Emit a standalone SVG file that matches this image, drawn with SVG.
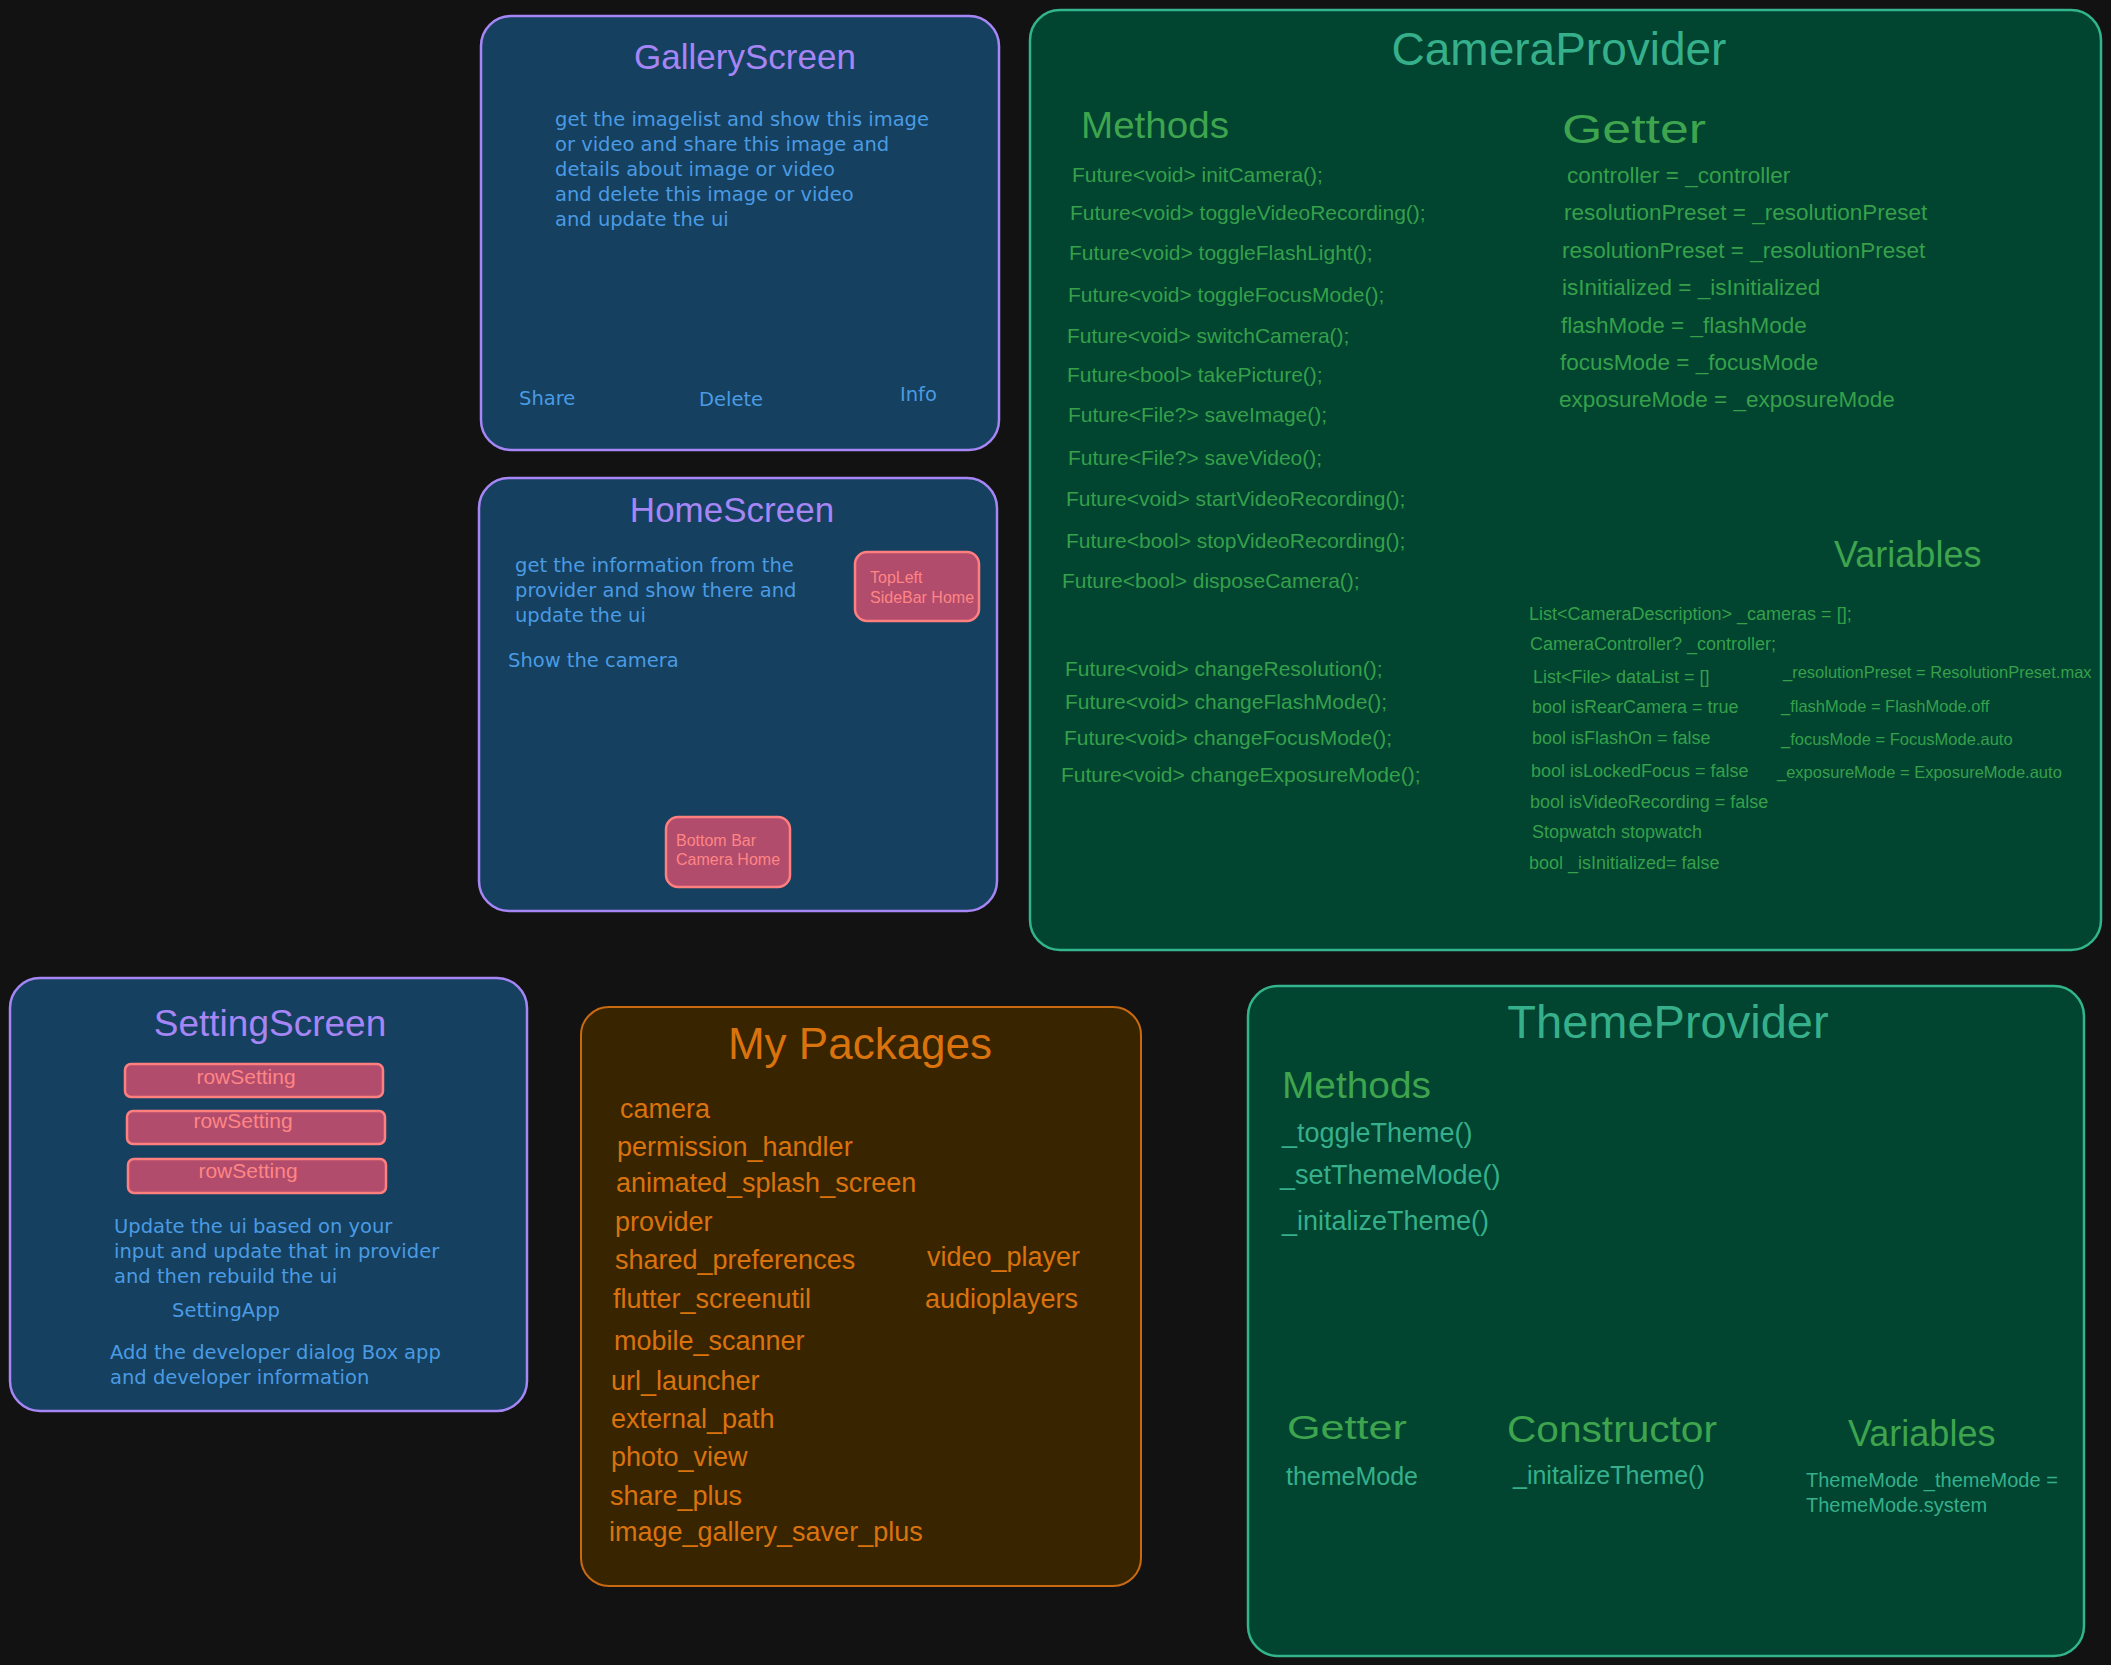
<svg xmlns="http://www.w3.org/2000/svg" width="2111" height="1665" viewBox="0 0 2111 1665">
<style>
text{font-family:"Liberation Sans",Arial,sans-serif}
.bluebox{fill:#15405f;stroke:#a685f5;stroke-width:2.5}
.greenbox{fill:#014430;stroke:#32b58b;stroke-width:2.5}
.orangebox{fill:#392400;stroke:#c96a10;stroke-width:2}
.pink{fill:#b14c6c;stroke:#ff7f7f;stroke-width:2.5}
.ptitle{fill:#a685f5;font-size:35px;text-anchor:middle}
.btxt{fill:#4a9be3;font-size:19.5px;font-family:"DejaVu Sans",Verdana,sans-serif}
.pktxt{fill:#ff8585;font-size:16px}
.gtitle{fill:#36b08b;font-size:46px;text-anchor:middle}
.ghead{fill:#3ea44e;font-size:36px}
.gm{fill:#36a04a;font-size:21px}
.gg{fill:#36a04a;font-size:22.5px}
.gv{fill:#36a04a;font-size:18px}
.gv2{fill:#36a04a;font-size:16.5px}
.otitle{fill:#d9730d;font-size:44px;text-anchor:middle}
.otxt{fill:#d9730d;font-size:27px}
.tm{fill:#36b08b;font-size:27px}
</style>
<rect width="2111" height="1665" fill="#121212"/>

<g id="gallery-screen">
<rect class="bluebox" x="481" y="16" width="518" height="434" rx="30"/>
<text class="ptitle" x="745" y="69">GalleryScreen</text>
<text class="btxt" x="555" y="126">get the imagelist and show this image</text>
<text class="btxt" x="555" y="151">or video and share this image and</text>
<text class="btxt" x="555" y="176">details about image or video</text>
<text class="btxt" x="555" y="201">and delete this image or video</text>
<text class="btxt" x="555" y="226">and update the ui</text>
<text class="btxt" x="519" y="405">Share</text>
<text class="btxt" x="699" y="406">Delete</text>
<text class="btxt" x="900" y="401">Info</text>
</g>

<g id="home-screen">
<rect class="bluebox" x="479" y="478" width="518" height="433" rx="30"/>
<text class="ptitle" x="732" y="522">HomeScreen</text>
<text class="btxt" x="515" y="572">get the information from the</text>
<text class="btxt" x="515" y="597">provider and show there and</text>
<text class="btxt" x="515" y="622">update the ui</text>
<text class="btxt" x="508" y="667">Show the camera</text>
<g id="topleft-sidebar">
<rect class="pink" x="855" y="552" width="124" height="69" rx="12"/>
<text class="pktxt" x="870" y="583">TopLeft</text>
<text class="pktxt" x="870" y="603">SideBar Home</text>
</g>
<g id="bottom-bar">
<rect class="pink" x="666" y="817" width="124" height="70" rx="12"/>
<text class="pktxt" x="676" y="846">Bottom Bar</text>
<text class="pktxt" x="676" y="865">Camera Home</text>
</g>
</g>

<g id="camera-provider">
<rect class="greenbox" x="1030" y="10" width="1071" height="940" rx="30"/>
<text class="gtitle" x="1559" y="65">CameraProvider</text>
<text class="ghead" x="1081" y="138" textLength="148" lengthAdjust="spacingAndGlyphs">Methods</text>
<text class="gm" x="1072" y="182">Future&lt;void&gt; initCamera();</text>
<text class="gm" x="1070" y="220">Future&lt;void&gt; toggleVideoRecording();</text>
<text class="gm" x="1069" y="260">Future&lt;void&gt; toggleFlashLight();</text>
<text class="gm" x="1068" y="302">Future&lt;void&gt; toggleFocusMode();</text>
<text class="gm" x="1067" y="343">Future&lt;void&gt; switchCamera();</text>
<text class="gm" x="1067" y="382">Future&lt;bool&gt; takePicture();</text>
<text class="gm" x="1068" y="422">Future&lt;File?&gt; saveImage();</text>
<text class="gm" x="1068" y="465">Future&lt;File?&gt; saveVideo();</text>
<text class="gm" x="1066" y="506">Future&lt;void&gt; startVideoRecording();</text>
<text class="gm" x="1066" y="548">Future&lt;bool&gt; stopVideoRecording();</text>
<text class="gm" x="1062" y="588">Future&lt;bool&gt; disposeCamera();</text>
<text class="gm" x="1065" y="676">Future&lt;void&gt; changeResolution();</text>
<text class="gm" x="1065" y="709">Future&lt;void&gt; changeFlashMode();</text>
<text class="gm" x="1064" y="745">Future&lt;void&gt; changeFocusMode();</text>
<text class="gm" x="1061" y="782">Future&lt;void&gt; changeExposureMode();</text>

<text class="ghead" x="1562" y="143" style="font-size:40px" textLength="144" lengthAdjust="spacingAndGlyphs">Getter</text>
<text class="gg" x="1567" y="183">controller = _controller</text>
<text class="gg" x="1564" y="220">resolutionPreset = _resolutionPreset</text>
<text class="gg" x="1562" y="258">resolutionPreset = _resolutionPreset</text>
<text class="gg" x="1562" y="295">isInitialized = _isInitialized</text>
<text class="gg" x="1561" y="333">flashMode = _flashMode</text>
<text class="gg" x="1560" y="370">focusMode = _focusMode</text>
<text class="gg" x="1559" y="407">exposureMode = _exposureMode</text>

<text class="ghead" x="1834" y="567">Variables</text>
<text class="gv" x="1529" y="620">List&lt;CameraDescription&gt; _cameras = [];</text>
<text class="gv" x="1530" y="650">CameraController? _controller;</text>
<text class="gv" x="1533" y="683">List&lt;File&gt; dataList = []</text>
<text class="gv" x="1532" y="713">bool isRearCamera = true</text>
<text class="gv" x="1532" y="744">bool isFlashOn = false</text>
<text class="gv" x="1531" y="777">bool isLockedFocus = false</text>
<text class="gv" x="1530" y="808">bool isVideoRecording = false</text>
<text class="gv" x="1532" y="838">Stopwatch stopwatch</text>
<text class="gv" x="1529" y="869">bool _isInitialized= false</text>
<text class="gv2" x="1783" y="678">_resolutionPreset = ResolutionPreset.max</text>
<text class="gv2" x="1781" y="712">_flashMode = FlashMode.off</text>
<text class="gv2" x="1781" y="745">_focusMode = FocusMode.auto</text>
<text class="gv2" x="1777" y="778">_exposureMode = ExposureMode.auto</text>
</g>

<g id="setting-screen">
<rect class="bluebox" x="10" y="978" width="517" height="433" rx="30"/>
<text class="ptitle" x="270" y="1036" style="font-size:37px">SettingScreen</text>
<g id="row-setting-1">
<rect class="pink" x="125" y="1064" width="258" height="33" rx="6"/>
<text class="pktxt" x="246" y="1084" text-anchor="middle" style="font-size:21px">rowSetting</text>
</g>
<g id="row-setting-2">
<rect class="pink" x="127" y="1111" width="258" height="33" rx="6"/>
<text class="pktxt" x="243" y="1128" text-anchor="middle" style="font-size:21px">rowSetting</text>
</g>
<g id="row-setting-3">
<rect class="pink" x="128" y="1159" width="258" height="34" rx="6"/>
<text class="pktxt" x="248" y="1178" text-anchor="middle" style="font-size:21px">rowSetting</text>
</g>
<text class="btxt" x="114" y="1233">Update the ui based on your</text>
<text class="btxt" x="114" y="1258">input and update that in provider</text>
<text class="btxt" x="114" y="1283">and then rebuild the ui</text>
<text class="btxt" x="172" y="1317">SettingApp</text>
<text class="btxt" x="110" y="1359">Add the developer dialog Box app</text>
<text class="btxt" x="110" y="1384">and developer information</text>
</g>

<g id="my-packages">
<rect class="orangebox" x="581" y="1007" width="560" height="579" rx="28"/>
<text class="otitle" x="860" y="1059">My Packages</text>
<text class="otxt" x="620" y="1118">camera</text>
<text class="otxt" x="617" y="1156">permission_handler</text>
<text class="otxt" x="616" y="1192">animated_splash_screen</text>
<text class="otxt" x="615" y="1231">provider</text>
<text class="otxt" x="615" y="1269">shared_preferences</text>
<text class="otxt" x="613" y="1308">flutter_screenutil</text>
<text class="otxt" x="614" y="1350">mobile_scanner</text>
<text class="otxt" x="611" y="1390">url_launcher</text>
<text class="otxt" x="611" y="1428">external_path</text>
<text class="otxt" x="611" y="1466">photo_view</text>
<text class="otxt" x="610" y="1505">share_plus</text>
<text class="otxt" x="609" y="1541">image_gallery_saver_plus</text>
<text class="otxt" x="927" y="1266">video_player</text>
<text class="otxt" x="925" y="1308">audioplayers</text>
</g>

<g id="theme-provider">
<rect class="greenbox" x="1248" y="986" width="836" height="670" rx="30"/>
<text class="gtitle" x="1668" y="1038" style="font-size:47px">ThemeProvider</text>
<text class="ghead" x="1282" y="1098" textLength="149" lengthAdjust="spacingAndGlyphs">Methods</text>
<text class="tm" x="1282" y="1142">_toggleTheme()</text>
<text class="tm" x="1280" y="1184">_setThemeMode()</text>
<text class="tm" x="1282" y="1230">_initalizeTheme()</text>
<text class="ghead" x="1287" y="1439" style="font-size:34px" textLength="120" lengthAdjust="spacingAndGlyphs">Getter</text>
<text class="ghead" x="1507" y="1442" textLength="210" lengthAdjust="spacingAndGlyphs">Constructor</text>
<text class="ghead" x="1848" y="1446">Variables</text>
<text class="tm" x="1286" y="1485" style="font-size:25px">themeMode</text>
<text class="tm" x="1513" y="1484" style="font-size:25px">_initalizeTheme()</text>
<text class="tm" x="1806" y="1487" style="font-size:20px">ThemeMode _themeMode =</text>
<text class="tm" x="1806" y="1512" style="font-size:20px">ThemeMode.system</text>
</g>
</svg>
